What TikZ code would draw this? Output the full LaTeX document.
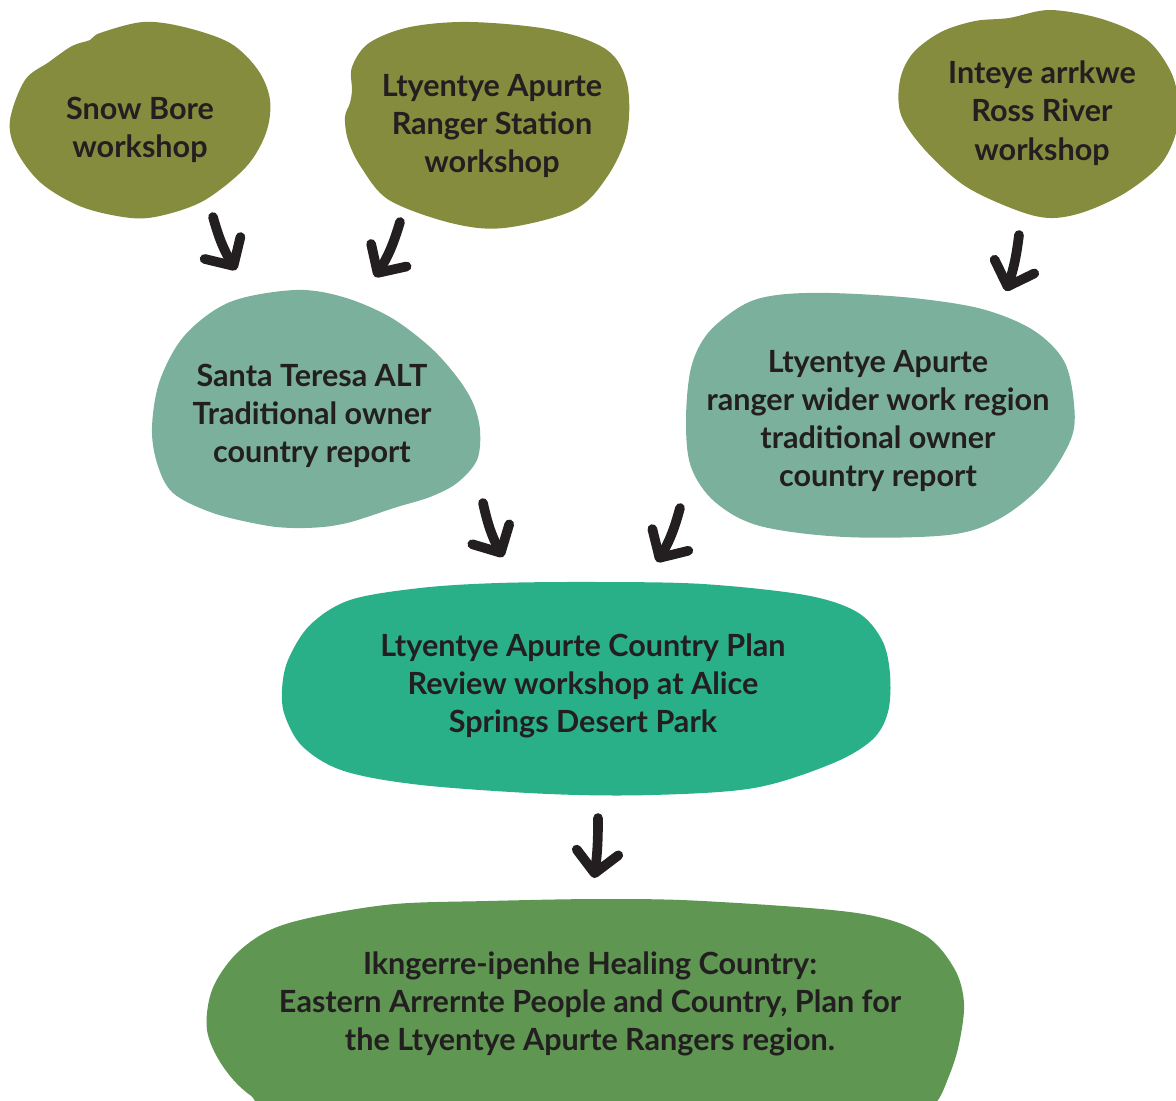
\documentclass[tikz,border=0pt]{standalone}
\usepackage{fontspec}
\setmainfont{Lato}
\usetikzlibrary{arrows.meta}

\definecolor{olivebg}{HTML}{858C3E}
\definecolor{sagebg}{HTML}{7AB09C}
\definecolor{jadebg}{HTML}{2AB088}
\definecolor{leafbg}{HTML}{5E9652}
\definecolor{inkdark}{HTML}{231F20}

\begin{document}
\begin{tikzpicture}[x=0.02cm,y=-0.02cm,
    blobtext/.style={align=center,text=inkdark,font=\fontsize{17.4}{21.8}\selectfont\bfseries},
    flow/.style={draw=inkdark,line width=5.5pt,line cap=round,-{Straight Barb[length=0.42cm,width=0.84cm,round]}}]
            \useasboundingbox (0,0) rectangle (1176,1100);
            \clip (0,0) rectangle (1176,1100);

            %painted blobs
            \fill[olivebg] plot[smooth cycle,tension=0.55] coordinates {(10,120) (25,80) (49,62) (72,46) (90,40) (100,33) (143,22) (184,27) (230,43) (258,70) (270,100) (266,133) (246,167) (205,200) (164,215) (131,218) (82,207) (41,183) (16,150)};
            \fill[olivebg] plot[smooth cycle,tension=0.55] coordinates {(352,67) (369,43) (410,27) (471,22) (553,30) (607,50) (627,83) (627,133) (607,177) (574,210) (504,228) (451,223) (389,200) (361,167) (348,140) (345,117) (350,103) (352,90)};
            \fill[olivebg] plot[smooth cycle,tension=0.55] coordinates {(975,21) (1009,18) (1050,10) (1102,19) (1146,39) (1170,70) (1178,100) (1176,133) (1160,165) (1125,193) (1084,212) (1050,218) (1016,210) (965,186) (925,150) (901,115) (900,80) (913,53) (941,32)};
            \fill[sagebg] plot[smooth cycle,tension=0.55] coordinates {(295,290) (343,297) (390,317) (430,347) (457,377) (473,403) (480,430) (477,460) (457,483) (430,497) (397,507) (367,517) (347,523) (323,527) (293,528) (263,525) (213,513) (173,493) (157,463) (152,427) (160,380) (185,335) (230,302)};
            \fill[sagebg] plot[smooth cycle,tension=0.55] coordinates {(831,293) (913,298) (982,309) (1033,330) (1064,361) (1074,404) (1071,439) (1043,484) (999,519) (948,535) (845,537) (760,526) (715,502) (691,467) (686,421) (691,368) (708,333) (743,305) (777,295)};
            \fill[jadebg] plot[smooth cycle,tension=0.55] coordinates {(350,600) (420,588) (498,583) (600,582) (703,584) (805,595) (857,612) (882,640) (890,674) (888,712) (872,740) (831,764) (754,788) (652,795) (549,794) (421,785) (344,771) (303,747) (285,716) (282,690) (288,660) (310,625)};
            \fill[leafbg] plot[smooth cycle,tension=0.55] coordinates {(318,916) (395,904) (487,901) (600,899) (703,901) (857,913) (923,934) (954,968) (964,1003) (959,1044) (949,1076) (934,1105) (900,1125) (600,1130) (300,1120) (250,1095) (222,1065) (207,1030) (212,990) (235,955) (270,930)};

            %texts
            \node[blobtext] (snow) at (140,130) {Snow Bore\\workshop};
            \node[blobtext] (ranger) at (492,126) {Ltyentye Apurte\\Ranger Station\\workshop};
            \node[blobtext] (ross) at (1042,113) {Inteye arrkwe\\Ross River\\workshop};
            \node[blobtext] (santa) at (312,416) {Santa Teresa ALT\\Traditional owner\\country report};
            \node[blobtext] (wider) at (878,421) {Ltyentye Apurte\\ranger wider work region\\traditional owner\\country report};
            \node[blobtext] (review) at (583,686) {Ltyentye Apurte Country Plan\\Review workshop at Alice\\Springs Desert Park};
            \node[blobtext] (healing) at (590,1004) {Ikngerre-ipenhe Healing Country:\\Eastern Arrernte People and Country, Plan for\\the Ltyentye Apurte Rangers region.};

            %arrow ends
            \coordinate (snowout) at (213,217);
            \coordinate (rangerout) at (400,222);
            \coordinate (rossout) at (1019,235);
            \coordinate (santain) at (236,270);
            \coordinate (santain2) at (375,277);
            \coordinate (santaout) at (483,503);
            \coordinate (widerin) at (1006,291);
            \coordinate (widerout) at (680,508);
            \coordinate (reviewin) at (503,557);
            \coordinate (reviewin2) at (657,562);
            \coordinate (reviewout) at (598,818);
            \coordinate (healingin) at (594,878);

            \draw[flow] (snowout) to[bend right=8] (santain);
            \draw[flow] (rangerout) to[bend left=8] (santain2);
            \draw[flow] (rossout) to[bend left=6] (widerin);
            \draw[flow] (santaout) to[bend right=8] (reviewin);
            \draw[flow] (widerout) to[bend left=8] (reviewin2);
            \draw[flow] (reviewout) to[bend left=4] (healingin);

        \end{tikzpicture}
\end{document}
